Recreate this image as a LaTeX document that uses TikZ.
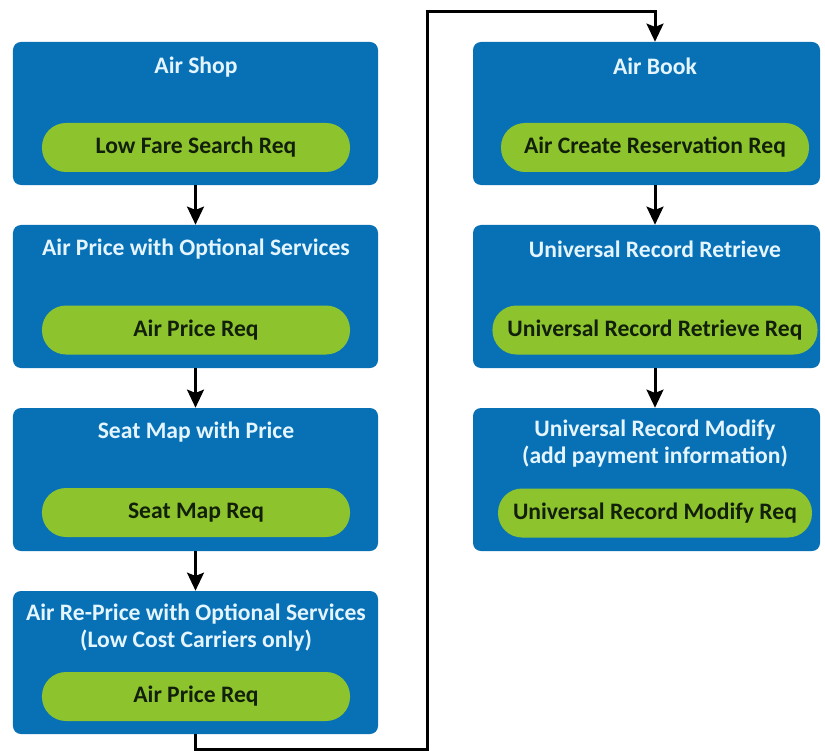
\documentclass[tikz,border=0pt]{standalone}
\usepackage{fontspec}
\setmainfont{Carlito}
\usetikzlibrary{arrows.meta,positioning}
\definecolor{stageblue}{RGB}{8,113,182}
\definecolor{reqgreen}{RGB}{141,196,46}
\definecolor{titlecyan}{RGB}{228,245,255}
\definecolor{reqtext}{RGB}{18,32,10}

\begin{document}
\begin{tikzpicture}[x=0.25mm, y=-0.25mm,
	stage/.style={fill=stageblue, rounded corners=2mm, inner sep=0pt, minimum height=35.75mm},
	stagetitle/.style={text=titlecyan, align=center, font=\fontsize{16.8}{19.2}\selectfont\bfseries},
	req/.style={fill=reqgreen, rounded corners=6mm, minimum width=77mm, minimum height=12.25mm,
		inner xsep=3.75mm, text=reqtext, font=\fontsize{16.8}{19}\selectfont\bfseries},
	flow/.style={line width=0.75mm, -{Stealth[length=4.5mm, width=4.2mm, inset=0.8mm]}}]
		%%%%% START %%%%%
		\useasboundingbox (0,0) rectangle (825,751);
		
		% shopping side
		\node[stage, minimum width=91.25mm] (shop) at (195.5,113.5) {};
		\node[stagetitle] (shoptitle) at (196,67) {Air Shop};
		\node[req] (shopreq) at (196,147.5) {Low Fare Search Req};
		
		\node[stage, minimum width=91.25mm] (price) at (195.5,296.5) {};
		\node[stagetitle] (pricetitle) at (196,249) {Air Price with Optional Services};
		\node[req] (pricereq) at (196,330) {Air Price Req};
		
		\node[stage, minimum width=91.25mm] (seat) at (195.5,479.5) {};
		\node[stagetitle] (seattitle) at (196,432) {Seat Map with Price};
		\node[req] (seatreq) at (196,512.5) {Seat Map Req};
		
		\node[stage, minimum width=91.25mm] (reprice) at (195.5,662.5) {};
		\node[stagetitle] (repricetitle) at (196,628) {Air Re-Price with Optional Services\\(Low Cost Carriers only)};
		\node[req] (repricereq) at (196,696.5) {Air Price Req};
		
		% booking side
		\node[stage, minimum width=86.75mm] (book) at (646.5,113.5) {};
		\node[stagetitle] (booktitle) at (655,66) {Air Book};
		\node[req] (bookreq) at (655,147.5) {Air Create Reservation Req};
		
		\node[stage, minimum width=86.75mm] (retrieve) at (646.5,296.5) {};
		\node[stagetitle] (retrievetitle) at (655,249) {Universal Record Retrieve};
		\node[req] (retrievereq) at (655,330) {Universal Record Retrieve Req};
		
		\node[stage, minimum width=86.75mm] (modify) at (646.5,479.5) {};
		\node[stagetitle] (modifytitle) at (655,444) {Universal Record Modify\\(add payment information)};
		\node[req] (modifyreq) at (655,513) {Universal Record Modify Req};
		
		% flow between steps
		\draw[flow] (shop.south) -- (price.north);
		\draw[flow] (price.south) -- (seat.north);
		\draw[flow] (seat.south) -- (reprice.north);
		
		\coordinate (low) at (427,749);
		\coordinate (high) at (427,12);
		\draw[flow, line join=miter] (reprice.south) |- (low) -- (high) -| (bookreq |- book.north);
		
		\draw[flow] (bookreq |- book.south) -- (bookreq |- retrieve.north);
		\draw[flow] (bookreq |- retrieve.south) -- (bookreq |- modify.north);
		
		%%%%% END %%%%%
\end{tikzpicture}
\end{document}
